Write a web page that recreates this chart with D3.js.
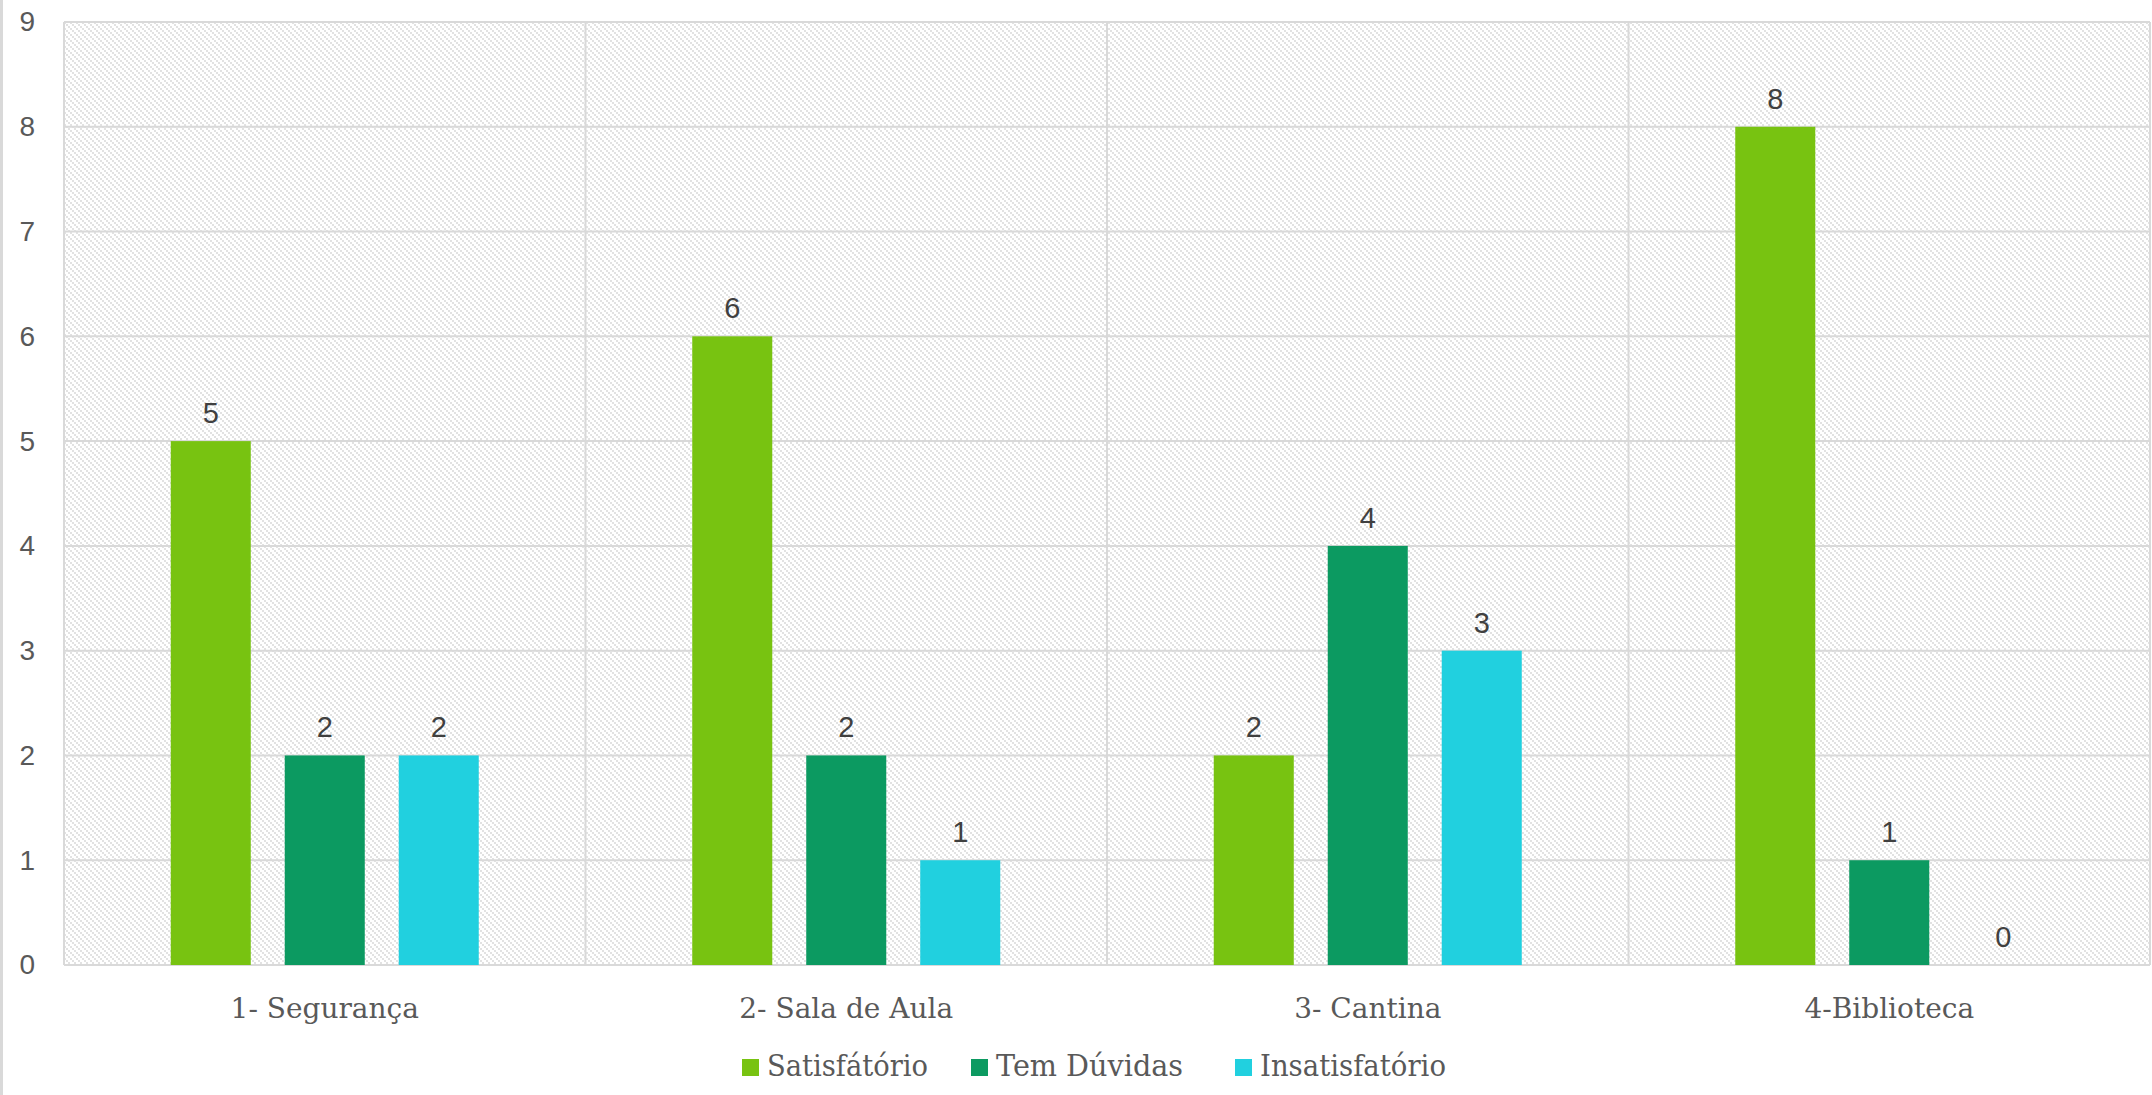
<!DOCTYPE html>
<html><head><meta charset="utf-8">
<script src="https://cdn.jsdelivr.net/npm/d3@7/dist/d3.min.js"></script>
<style>
html,body{margin:0;padding:0;background:#fff;overflow:hidden;}
svg{display:block;}
</style></head>
<body>
<svg id="chart" width="2152" height="1095"></svg>
<script>
const categories = ["1- Segurança", "2- Sala de Aula", "3- Cantina", "4-Biblioteca"];
const seriesNames = ["Satisfátório", "Tem Dúvidas", "Insatisfatório"];
const satisfatorio = [5, 6, 2, 8];
const temDuvidas = [2, 2, 4, 1];
const insatisfatorio = [2, 1, 3, 0];
const yTicks = [0, 1, 2, 3, 4, 5, 6, 7, 8, 9];
const colors = ["#78c311", "#0c9a61", "#21d0df"];

const seriesValues = [satisfatorio, temDuvidas, insatisfatorio];

const W = 2152, H = 1095;
const plot = {left: 64, right: 2150, top: 22, bottom: 965};
const svg = d3.select("#chart");

// pattern
const defs = svg.append("defs");
const pat = defs.append("pattern").attr("id", "hatch").attr("patternUnits", "userSpaceOnUse")
  .attr("width", 6).attr("height", 6);
pat.append("rect").attr("width", 6).attr("height", 6).attr("fill", "#ffffff");
[0, 2, 4].forEach(o => pat.append("rect").attr("x", o).attr("y", o).attr("width", 2).attr("height", 2)
  .attr("fill", "#e2e2e2").attr("shape-rendering", "crispEdges"));

// outer left border
svg.append("line").attr("x1", 1.5).attr("x2", 1.5).attr("y1", 0).attr("y2", H)
  .attr("stroke", "#d9d9d9").attr("stroke-width", 3);

const x0 = d3.scaleBand().domain(categories).range([plot.left, plot.right]).padding(0);
const x1 = d3.scaleBand().domain(seriesNames)
  .range([x0.bandwidth() * 0.2047, x0.bandwidth() * (1 - 0.2047)])
  .paddingInner(0.298).paddingOuter(0);
const y = d3.scaleLinear().domain([0, 9]).range([plot.bottom, plot.top]);

// plot background
svg.append("rect").attr("x", plot.left).attr("y", plot.top)
  .attr("width", plot.right - plot.left).attr("height", plot.bottom - plot.top)
  .attr("fill", "url(#hatch)");

// horizontal gridlines
svg.append("g").selectAll("line").data(yTicks).join("line")
  .attr("x1", plot.left).attr("x2", plot.right)
  .attr("y1", d => y(d)).attr("y2", d => y(d))
  .attr("stroke", "#d9d9d9").attr("stroke-width", 2);

// vertical gridlines at category boundaries
const bounds = categories.map(c => x0(c)).concat([x0(categories[categories.length - 1]) + x0.bandwidth()]);
svg.append("g").selectAll("line").data(bounds).join("line")
  .attr("x1", d => d).attr("x2", d => d)
  .attr("y1", plot.top).attr("y2", plot.bottom)
  .attr("stroke", "#d9d9d9").attr("stroke-width", 2);

// y axis labels
const yAxis = d3.axisLeft(y).tickValues(yTicks).tickSize(0).tickPadding(29);
const gy = svg.append("g").attr("transform", `translate(${plot.left},0)`).call(yAxis);
gy.select(".domain").remove();
gy.selectAll("text").attr("font-family", "'Liberation Sans', Arial, sans-serif")
  .attr("font-size", 28).attr("fill", "#595959");

// bars
const groups = svg.append("g").selectAll("g").data(categories).join("g")
  .attr("transform", c => `translate(${x0(c)},0)`);
groups.selectAll("rect").data((c, i) => seriesNames.map((s, k) => ({s, k, v: seriesValues[k][i]})))
  .join("rect")
  .attr("x", d => x1(d.s)).attr("width", x1.bandwidth())
  .attr("y", d => y(d.v)).attr("height", d => y(0) - y(d.v))
  .attr("fill", d => colors[d.k]);
groups.selectAll("text").data((c, i) => seriesNames.map((s, k) => ({s, k, v: seriesValues[k][i]})))
  .join("text")
  .attr("x", d => x1(d.s) + x1.bandwidth() / 2).attr("y", d => y(d.v) - 18)
  .attr("text-anchor", "middle")
  .attr("font-family", "'Liberation Sans', Arial, sans-serif").attr("font-size", 29)
  .attr("fill", "#404040").text(d => d.v);

// x axis category labels
const xAxis = d3.axisBottom(x0).tickSize(0).tickPadding(0);
const gx = svg.append("g").attr("transform", `translate(0,${plot.bottom})`).call(xAxis);
gx.select(".domain").remove();
gx.selectAll("text").attr("dy", null).attr("y", 53)
  .attr("font-family", "'DejaVu Serif', serif").attr("font-size", 28).attr("fill", "#595959");

// legend
const legendText = [161, 187, 186];
const legendGap = [0, 43, 52];
let lx = 742;
const leg = svg.append("g");
seriesNames.forEach((s, k) => {
  lx += legendGap[k];
  leg.append("rect").attr("x", lx).attr("y", 1059).attr("width", 17).attr("height", 17).attr("fill", colors[k]);
  leg.append("text").attr("x", lx + 25).attr("y", 1076)
    .attr("font-family", "'DejaVu Serif', serif").attr("font-size", 29).attr("fill", "#595959")
    .attr("textLength", legendText[k]).attr("lengthAdjust", "spacingAndGlyphs").text(s);
  lx += 25 + legendText[k];
});
</script>
</body></html>
